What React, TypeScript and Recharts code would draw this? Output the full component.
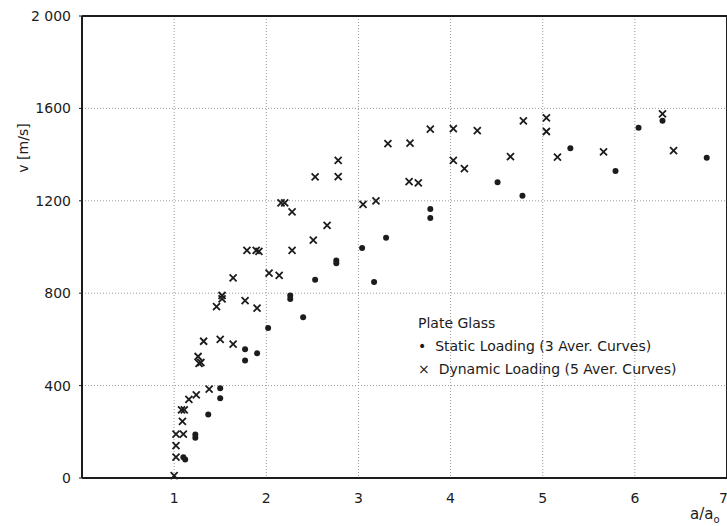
import React from 'react'
import {
  ScatterChart,
  Scatter,
  XAxis,
  YAxis,
  CartesianGrid,
  ReferenceLine,
} from 'recharts'

// static loading (dots): [a/a0, v in m/s]
const staticX = [1.10, 1.12, 1.23, 1.23, 1.37, 1.50, 1.50, 1.77, 1.77, 1.90, 2.02, 2.26, 2.26, 2.40, 2.53, 2.76, 2.76, 3.04, 3.17, 3.30, 3.78, 3.78, 4.51, 4.78, 5.30, 5.79, 6.04, 6.30, 6.78]
const staticV = [90, 80, 188, 174, 275, 388, 345, 557, 509, 540, 649, 790, 775, 696, 858, 942, 930, 996, 848, 1040, 1165, 1126, 1280, 1222, 1428, 1329, 1516, 1546, 1386]

// dynamic loading (crosses)
const dynamicX = [1.00, 1.02, 1.02, 1.02, 1.10, 1.09, 1.08, 1.11, 1.16, 1.24, 1.38, 1.26, 1.27, 1.29, 1.32, 1.50, 1.64, 1.46, 1.52, 1.52, 1.77, 1.90, 1.64, 2.03, 2.14, 1.79, 1.89, 1.92, 2.28, 2.16, 2.20, 2.28, 2.51, 2.53, 2.78, 2.78, 2.66, 3.05, 3.19, 3.55, 3.65, 3.32, 3.56, 3.78, 4.03, 4.29, 4.03, 4.15, 4.65, 4.79, 5.04, 5.04, 5.16, 5.66, 6.30, 6.42]
const dynamicV = [10, 90, 140, 190, 190, 245, 295, 295, 340, 360, 385, 526, 496, 500, 592, 600, 580, 742, 790, 775, 768, 735, 866, 887, 877, 985, 985, 981, 985, 1191, 1191, 1152, 1030, 1304, 1305, 1375, 1094, 1185, 1200, 1283, 1278, 1448, 1450, 1510, 1512, 1504, 1375, 1339, 1391, 1546, 1559, 1500, 1389, 1412, 1576, 1417]

const xTicks = [0, 1, 2, 3, 4, 5, 6, 7]
const yTicks = [0, 400, 800, 1200, 1600, 2000]

const staticData = staticX.map((x, i) => ({ x, y: staticV[i] }))
const dynamicData = dynamicX.map((x, i) => ({ x, y: dynamicV[i] }))

const FONT = '"DejaVu Sans", sans-serif'
const INK = '#1c1c1c'

const Dot = (props: any) => {
  const { cx, cy } = props
  return <circle cx={cx} cy={cy} r={3} fill={INK} />
}

const Cross = (props: any) => {
  const { cx, cy } = props
  const s = 3.5
  return (
    <path
      d={`M${cx - s},${cy - s}L${cx + s},${cy + s}M${cx - s},${cy + s}L${cx + s},${cy - s}`}
      stroke={INK}
      strokeWidth={1.8}
      fill="none"
    />
  )
}

const App = () => {
  return (
    <div style={{ position: 'absolute', left: 0, top: 0, width: 727, height: 526, background: '#fff' }}>
      <ScatterChart width={727} height={526} margin={{ top: 16, right: 0, bottom: 0, left: 0 }}>
        <CartesianGrid stroke="#9a9a9a" strokeDasharray="1 2" />
        <XAxis
          type="number"
          dataKey="x"
          domain={[0, 7]}
          ticks={xTicks}
          tickFormatter={(v: number) => (v === 0 ? '' : String(v))}
          height={48}
          axisLine={{ stroke: INK, strokeWidth: 2 }}
          tickLine={false}
          tickMargin={9}
          tick={{ fill: INK, fontSize: 14, fontFamily: FONT }}
          label={{
            content: () => (
              <text x={690} y={519} fill={INK} fontSize={15} fontFamily={FONT}>
                a/a<tspan fontSize={10} dy={4}>o</tspan>
              </text>
            ),
          }}
        />
        <YAxis
          type="number"
          dataKey="y"
          domain={[0, 2000]}
          ticks={yTicks}
          tickFormatter={(v: number) => (v === 2000 ? '2 000' : String(v))}
          width={82}
          axisLine={{ stroke: INK, strokeWidth: 2 }}
          tickLine={{ stroke: INK }}
          tickSize={3}
          tickMargin={8}
          tick={{ fill: INK, fontSize: 14, fontFamily: FONT }}
          label={{
            content: () => (
              <text
                x={28}
                y={148}
                transform="rotate(-90 28 148)"
                textAnchor="middle"
                fill={INK}
                fontSize={14}
                fontFamily={FONT}
              >
                v  [m/s]
              </text>
            ),
          }}
        />
        <ReferenceLine y={2000} stroke={INK} strokeWidth={2} />
        <ReferenceLine x={7} stroke={INK} strokeWidth={2} />
        <Scatter name="Static Loading" data={staticData} shape={<Dot />} isAnimationActive={false} />
        <Scatter name="Dynamic Loading" data={dynamicData} shape={<Cross />} isAnimationActive={false} />
      </ScatterChart>
      <div
        style={{
          position: 'absolute',
          left: 418,
          top: 312,
          fontFamily: FONT,
          fontSize: 14,
          color: INK,
          lineHeight: '23px',
          whiteSpace: 'pre',
        }}
      >
        <div>Plate Glass</div>
        <div>•  Static Loading (3 Aver. Curves)</div>
        <div>×  Dynamic Loading (5 Aver. Curves)</div>
      </div>
    </div>
  )
}

export default App
